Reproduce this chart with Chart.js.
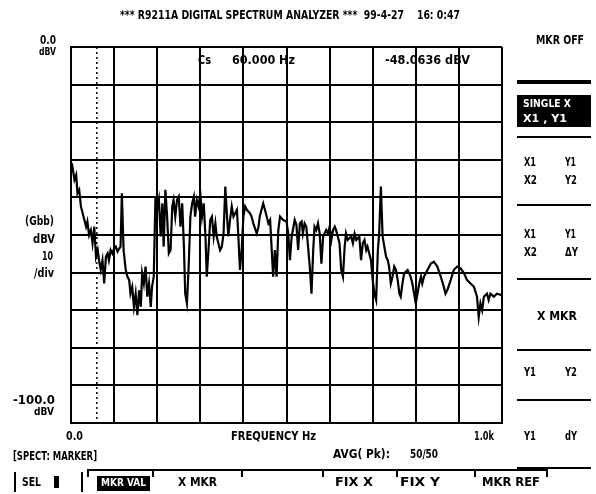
<!DOCTYPE html>
<html lang="en">
<head>
  <meta charset="UTF-8">
  <title>R9211A Digital Spectrum Analyzer</title>
  <script src="https://cdn.jsdelivr.net/npm/chart.js"></script>
  <style>
    body {
      margin: 0;
      padding: 0;
      background: #fff;
    }
    #wrap {
      position: relative;
      width: 596px;
      height: 494px;
    }
  </style>
</head>
<body>
  <div id="wrap">
    <canvas id="spectrum" width="596" height="494"></canvas>
  </div>

  <script>
    // Spectrum trace (Hz, dBV)
    const freqHz = [
      0, 2, 8, 12, 15, 19, 23, 29, 35, 38, 42, 46, 50, 54, 58, 62, 65, 69, 73, 77,
      81, 85, 88, 92, 96, 100, 104, 108, 112, 115, 118, 122, 127, 131, 135, 138, 142, 146, 150, 154,
      158, 162, 165, 169, 173, 177, 181, 185, 188, 192, 196, 200, 204, 208, 212, 215, 219, 223, 227, 231,
      235, 238, 242, 246, 250, 254, 258, 262, 265, 269, 273, 277, 281, 285, 288, 292, 296, 300, 304, 308,
      312, 315, 319, 323, 327, 331, 335, 338, 346, 350, 354, 358, 362, 365, 369, 373, 377, 381, 385, 388,
      392, 396, 400, 404, 408, 415, 419, 423, 431, 435, 438, 442, 446, 450, 454, 458, 462, 469, 473, 477,
      481, 485, 492, 500, 504, 508, 512, 519, 523, 527, 531, 535, 538, 542, 546, 554, 558, 562, 565, 569,
      573, 577, 581, 585, 592, 596, 600, 604, 608, 612, 615, 619, 623, 627, 631, 635, 638, 642, 650, 654,
      658, 662, 669, 673, 677, 681, 685, 688, 692, 696, 700, 704, 708, 712, 715, 719, 723, 727, 731, 735,
      738, 742, 746, 750, 754, 758, 762, 765, 769, 773, 781, 785, 788, 792, 796, 800, 804, 808, 812, 815,
      819, 827, 835, 842, 850, 858, 865, 869, 873, 881, 888, 896, 904, 912, 919, 927, 935, 942, 946, 950,
      954, 958, 965, 969, 973, 981, 988, 1000
    ];
    const levelDbv = [
      -31.8, -30.9, -35.3, -34.0, -38.9, -38.0, -42.4, -45.1, -47.8, -46.4, -50.0, -48.7, -52.2, -47.8, -55.8, -54.0, -56.7, -59.3, -56.7, -62.9,
      -55.8, -54.9, -56.7, -54.0, -54.9, -53.6, -53.1, -54.4, -53.6, -53.1, -38.9, -54.0, -59.3, -61.1, -62.0, -65.6, -63.8, -69.1, -65.6, -71.3,
      -64.7, -69.1, -60.2, -62.9, -58.4, -66.4, -62.9, -69.1, -63.8, -61.1, -39.8, -43.3, -40.7, -50.4, -41.6, -53.1, -38.0, -45.1, -54.9, -54.0,
      -42.4, -40.7, -45.1, -40.7, -39.8, -47.8, -41.6, -53.1, -65.6, -68.2, -58.4, -45.1, -41.6, -39.8, -45.1, -40.7, -42.4, -38.9, -45.1, -41.6,
      -50.4, -61.1, -54.0, -46.0, -45.1, -50.4, -46.9, -50.4, -54.0, -53.1, -49.6, -37.1, -45.1, -50.4, -46.0, -42.4, -45.1, -44.2, -43.3, -49.6,
      -59.3, -54.0, -45.1, -42.4, -43.3, -44.2, -45.1, -46.9, -49.6, -47.8, -45.1, -43.3, -41.6, -43.3, -45.1, -46.9, -46.0, -61.1, -54.0, -61.1,
      -48.7, -45.1, -46.0, -46.4, -49.6, -56.7, -50.4, -46.0, -47.3, -54.0, -46.9, -46.4, -49.6, -46.9, -47.8, -58.4, -65.6, -54.0, -47.8, -48.7,
      -46.9, -49.6, -57.6, -50.4, -48.7, -49.6, -47.8, -51.3, -48.7, -47.8, -48.7, -50.4, -52.2, -59.3, -61.1, -53.1, -49.6, -51.3, -50.4, -52.2,
      -49.6, -51.3, -50.4, -56.7, -52.2, -51.3, -54.0, -53.1, -54.9, -56.7, -62.0, -65.6, -67.3, -54.0, -49.6, -37.1, -50.4, -53.1, -55.8, -56.7,
      -58.4, -62.9, -61.1, -58.4, -59.3, -62.0, -65.6, -66.4, -62.9, -60.2, -59.3, -60.2, -61.1, -62.9, -65.6, -68.2, -65.6, -62.9, -61.1, -62.9,
      -61.1, -59.3, -57.6, -57.1, -58.4, -61.1, -63.8, -65.6, -64.7, -62.0, -59.3, -58.4, -58.9, -60.2, -62.0, -62.9, -63.8, -66.4, -71.8, -68.2,
      -70.0, -66.4, -65.6, -67.3, -65.6, -66.4, -65.6, -66.0
    ];

    // Axis / screen labels
    const yTickLabels = ['0.0', '-100.0'];
    const xTickLabels = ['0.0', 'FREQUENCY Hz', '1.0k'];
    const markerHz = 60;
    const markerDbv = -48.0636;

    const FONT = '"DejaVu Sans Condensed", "Liberation Sans Narrow", "DejaVu Sans", sans-serif';

    // draw text squeezed to a given width (the analyzer font is very narrow)
    function put(ctx, s, x, y, size, w, align, color) {
      ctx.save();
      ctx.font = 'bold ' + size + 'px ' + FONT;
      ctx.fillStyle = color || '#000';
      ctx.textBaseline = 'middle';
      ctx.textAlign = align || 'left';
      const m = ctx.measureText(s).width;
      const sx = w ? w / m : 1;
      ctx.translate(x, y);
      ctx.scale(sx, 1);
      ctx.fillText(s, 0, 0);
      ctx.restore();
    }

    function hline(ctx, x1, x2, y, lw) {
      ctx.beginPath();
      ctx.lineWidth = lw || 2;
      ctx.moveTo(x1, y);
      ctx.lineTo(x2, y);
      ctx.stroke();
    }

    function vline(ctx, x, y1, y2, lw) {
      ctx.beginPath();
      ctx.lineWidth = lw || 2;
      ctx.moveTo(x, y1);
      ctx.lineTo(x, y2);
      ctx.stroke();
    }

    const screenPlugin = {
      id: 'screen',
      beforeDatasetsDraw(chart) {
        const ctx = chart.ctx;
        const a = chart.chartArea;
        const mx = chart.scales.x.getPixelForValue(markerHz);
        ctx.save();
        ctx.strokeStyle = '#000';
        ctx.setLineDash([2, 3]);
        vline(ctx, mx, a.top, a.bottom, 1.5);
        ctx.restore();
      },
      afterDraw(chart) {
        const ctx = chart.ctx;
        const a = chart.chartArea;
        const xs = chart.scales.x;
        const ys = chart.scales.y;
        ctx.save();
        ctx.strokeStyle = '#000';

        // header
        put(ctx, '*** R9211A DIGITAL SPECTRUM ANALYZER ***  99-4-27    16: 0:47', 120, 16, 13, 340);

        // y axis labels
        put(ctx, yTickLabels[0], 56, ys.getPixelForValue(0) - 6, 12, 16, 'right');
        put(ctx, 'dBV', 56, ys.getPixelForValue(0) + 5, 11, 17, 'right');
        put(ctx, yTickLabels[1], 55, ys.getPixelForValue(-100) - 22, 12, 42, 'right');
        put(ctx, 'dBV', 54, ys.getPixelForValue(-100) - 11, 11, 20, 'right');
        put(ctx, '(Gbb)', 54, 222, 12, 29, 'right');
        put(ctx, 'dBV', 55, 240, 12, 22, 'right');
        put(ctx, '10', 53, 257, 12, 11, 'right');
        put(ctx, '/div', 54, 274, 12, 20, 'right');

        // x axis labels
        put(ctx, xTickLabels[0], xs.getPixelForValue(0) - 5, a.bottom + 14, 12, 17);
        put(ctx, xTickLabels[1], xs.getPixelForValue(470), a.bottom + 14, 12, 85, 'center');
        put(ctx, xTickLabels[2], xs.getPixelForValue(1000) - 8, a.bottom + 14, 13, 20, 'right');

        // marker readout
        put(ctx, 'Cs', 198, a.top + 14, 12, 13);
        put(ctx, markerHz.toFixed(3) + ' Hz', 232, a.top + 14, 12, 63);
        put(ctx, markerDbv.toFixed(4) + ' dBV', 385, a.top + 14, 12, 85);

        // status lines
        put(ctx, '[SPECT: MARKER]', 13, 457, 12, 84);
        put(ctx, 'AVG( Pk):', 333, 455, 12, 57);
        put(ctx, '50/50', 410, 455, 12, 28);

        // right hand soft-key panel
        const px1 = 517, px2 = 591;
        put(ctx, 'MKR OFF', 536, 41, 12, 48);
        hline(ctx, px1, px2, 82, 4);
        ctx.fillStyle = '#000';
        ctx.fillRect(px1, 95, px2 - px1, 32);
        put(ctx, 'SINGLE X', 523, 104, 11, 48, 'left', '#fff');
        put(ctx, 'X1 , Y1', 523, 119, 11, 44, 'left', '#fff');
        hline(ctx, px1, px2, 137, 2);
        put(ctx, 'X1', 524, 163, 12, 12);
        put(ctx, 'Y1', 565, 163, 12, 11);
        put(ctx, 'X2', 524, 181, 12, 13);
        put(ctx, 'Y2', 565, 181, 12, 12);
        hline(ctx, px1, px2, 205, 2);
        put(ctx, 'X1', 524, 235, 12, 12);
        put(ctx, 'Y1', 565, 235, 12, 11);
        put(ctx, 'X2', 524, 253, 12, 13);
        put(ctx, '\u0394Y', 565, 253, 12, 13);
        hline(ctx, px1, px2, 279, 2);
        put(ctx, 'X MKR', 537, 317, 12, 40);
        hline(ctx, px1, px2, 350, 2);
        put(ctx, 'Y1', 524, 373, 12, 12);
        put(ctx, 'Y2', 565, 373, 12, 12);
        hline(ctx, px1, px2, 400, 2);
        put(ctx, 'Y1', 524, 437, 12, 12);
        put(ctx, 'dY', 565, 437, 12, 12);
        hline(ctx, px1, px2, 468, 2);

        // bottom soft keys
        vline(ctx, 15, 472, 492, 2);
        vline(ctx, 82, 472, 492, 2);
        put(ctx, 'SEL', 22, 483, 12, 19);
        ctx.fillRect(54, 476, 5, 12);
        hline(ctx, 88, 547, 470, 2);
        [88, 153, 242, 323, 397, 475, 547].forEach(t => vline(ctx, t, 469, 477, 2));
        ctx.fillRect(97, 476, 53, 15);
        put(ctx, 'MKR VAL', 101, 483, 11, 45, 'left', '#fff');
        put(ctx, 'X MKR', 178, 483, 12, 39);
        put(ctx, 'FIX X', 335, 483, 12, 38);
        put(ctx, 'FIX Y', 400, 483, 12, 40);
        put(ctx, 'MKR REF', 482, 483, 12, 58);

        ctx.restore();
      }
    };

    const points = freqHz.map((f, i) => ({ x: f, y: levelDbv[i] }));

    const gridStyle = {
      color: '#000',
      lineWidth: 2,
      drawTicks: false
    };

    new Chart(document.getElementById('spectrum'), {
      type: 'line',
      data: {
        datasets: [{
          data: points,
          borderColor: '#000',
          borderWidth: 2.2,
          pointRadius: 0,
          tension: 0,
          fill: false
        }]
      },
      options: {
        responsive: false,
        animation: false,
        devicePixelRatio: 1,
        layout: {
          padding: { left: 71, right: 94, top: 47, bottom: 71 }
        },
        plugins: {
          legend: { display: false },
          tooltip: { enabled: false }
        },
        scales: {
          x: {
            type: 'linear',
            min: 0,
            max: 1000,
            ticks: { display: false, stepSize: 100 },
            grid: gridStyle,
            border: { display: true, color: '#000', width: 2 }
          },
          y: {
            type: 'linear',
            min: -100,
            max: 0,
            ticks: { display: false, stepSize: 10 },
            grid: gridStyle,
            border: { display: true, color: '#000', width: 2 }
          }
        }
      },
      plugins: [screenPlugin]
    });
  </script>
</body>
</html>
